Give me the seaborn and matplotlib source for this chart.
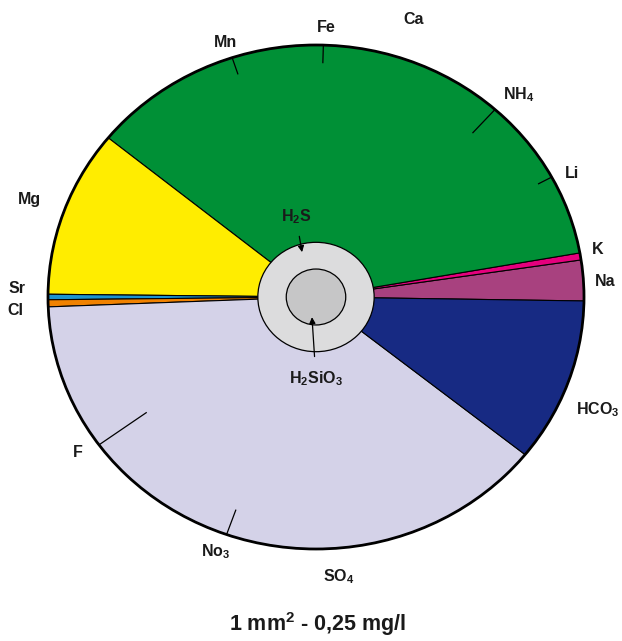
import numpy as np
import matplotlib
matplotlib.use("Agg")
import matplotlib.pyplot as plt
import seaborn as sns
from matplotlib.patches import Ellipse

sns.set_theme(style="white")
plt.rcParams['font.family'] = ['Liberation Sans', 'DejaVu Sans']
plt.rcParams['mathtext.fontset'] = 'custom'
plt.rcParams['mathtext.rm'] = 'Liberation Sans:bold'
plt.rcParams['mathtext.it'] = 'Liberation Sans:bold'
plt.rcParams['mathtext.bf'] = 'Liberation Sans:bold'
plt.rcParams['mathtext.default'] = 'rm'

# ---- data (percent of total, counter-clockwise from start) ----
ions = ["Na", "K", "Ca", "Mg", "Sr", "Cl", "SO4", "HCO3"]
ion_values = [2.6, 0.45, 36.3, 10.7, 0.35, 0.45, 38.6, 10.5]
ion_colors = ["#a8417f", "#e5007d", "#009036", "#ffed00",
              "#1d93cf", "#f08200", "#d4d2e8", "#172a83"]

# minor components shown as ticks (position in percent, tick length as fraction of radius)
minor_ions = ["Li", "NH4", "Fe", "Mn", "F", "No3"]
minor_pos = [8.14, 13.6, 24.8, 30.3, 60.2, 69.8]
minor_len = [0.058, 0.126, 0.072, 0.07, 0.22, 0.105]

# gases in centre (relative radii)
gas_names = ["H2S", "H2SiO3"]
gas_radius = [0.217, 0.111]
gas_colors = ["#dcdcdd", "#c6c6c7"]

start_angle = -0.9

labels_tex = {
    "Na": "Na", "K": "K", "Ca": "Ca", "Mg": "Mg", "Sr": "Sr", "Cl": "Cl",
    "SO4": "SO$_4$", "HCO3": "HCO$_3$", "Li": "Li", "NH4": "NH$_4$",
    "Fe": "Fe", "Mn": "Mn", "F": "F", "No3": "No$_3$",
    "H2S": "H$_2$S", "H2SiO3": "H$_2$SiO$_3$",
}
# label placement (axes data units, layout only)
label_xy = {
    "Mn": (-0.336, 1.009), "Fe": (0.037, 1.068), "Ca": (0.366, 1.103),
    "NH4": (0.755, 0.802), "Li": (0.955, 0.492), "K": (1.052, 0.187),
    "Na": (1.080, 0.060), "HCO3": (1.052, -0.448), "SO4": (0.085, -1.111),
    "No3": (-0.374, -1.012), "F": (-0.888, -0.619), "Cl": (-1.123, -0.052),
    "Sr": (-1.116, 0.032), "Mg": (-1.071, 0.385),
}

W, H = 622, 641
fig = plt.figure(figsize=(W / 100, H / 100), dpi=100)
cx, cy, rx, ry = 316, 297, 268, 252
ax = fig.add_axes([(cx - rx) / W, (H - cy - ry) / H, 2 * rx / W, 2 * ry / H])

ax.pie(ion_values, colors=ion_colors, startangle=start_angle, counterclock=True,
       radius=1, wedgeprops=dict(edgecolor="black", linewidth=0.8))
ax.set_aspect("auto")
ax.set_xlim(-1, 1)
ax.set_ylim(-1, 1)
ax.axis("off")

# outer rim
ax.add_patch(Ellipse((0, 0), 2, 2, fill=False, edgecolor="black", linewidth=2.0,
                     clip_on=False, zorder=5))

# minor ticks
total = sum(ion_values)
for name, p, l in zip(minor_ions, minor_pos, minor_len):
    a = np.deg2rad(start_angle + p / total * 360)
    ax.plot([np.cos(a), (1 - l) * np.cos(a)], [np.sin(a), (1 - l) * np.sin(a)],
            color="black", linewidth=0.9, zorder=4, solid_capstyle="butt")

# central circles
for r, c in zip(gas_radius, gas_colors):
    ax.add_patch(Ellipse((0, 0), 2 * r, 2 * r, facecolor=c, edgecolor="black",
                         linewidth=0.9, zorder=6))

# labels
for name, (x, y) in label_xy.items():
    ax.text(x, y, labels_tex[name], ha="center", va="center", fontsize=11.5,
            fontweight="bold", color="#1a1a1a", clip_on=False)

# gas annotations
ax.annotate(labels_tex["H2S"], xy=(-0.052, 0.178), xytext=(-0.075, 0.318),
            ha="center", va="center", fontsize=11.5, fontweight="bold", color="#1a1a1a",
            arrowprops=dict(arrowstyle="-|>", color="black", lw=0.9,
                            mutation_scale=9, shrinkA=5, shrinkB=0), zorder=8)
ax.annotate(labels_tex["H2SiO3"], xy=(-0.015, -0.08), xytext=(0.0, -0.325),
            ha="center", va="center", fontsize=11.5, fontweight="bold", color="#1a1a1a",
            arrowprops=dict(arrowstyle="-|>", color="black", lw=0.9,
                            mutation_scale=9, shrinkA=7, shrinkB=0), zorder=8)

fig.text(317 / W, 1 - 624 / H, "1 mm$^2$ - 0,25 mg/l", ha="center", va="center",
         fontsize=15.5, fontweight="bold", color="#1a1a1a")

fig.savefig("out.png", dpi=100)
